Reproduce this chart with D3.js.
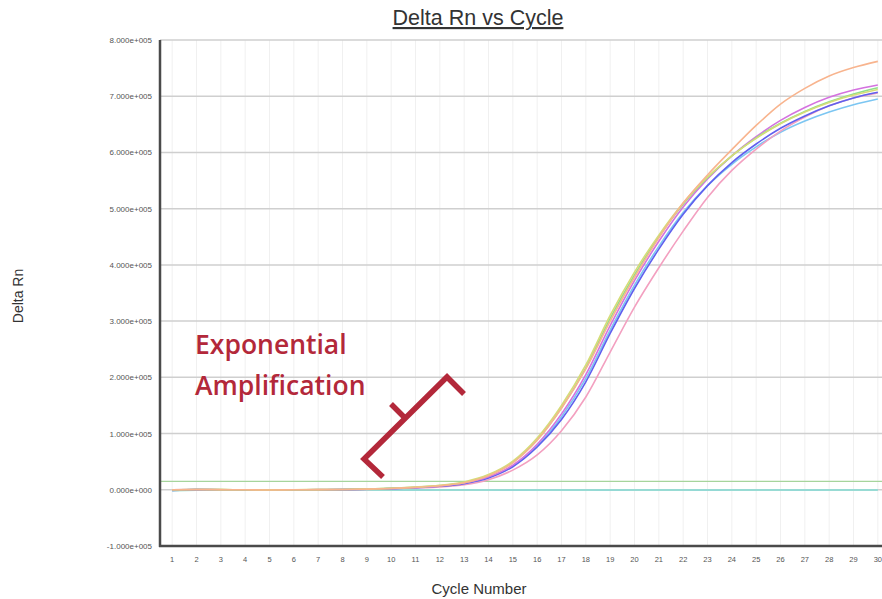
<!DOCTYPE html>
<html>
<head>
<meta charset="utf-8">
<script src="https://cdn.jsdelivr.net/npm/d3@7"></script>
<style>
  body { margin: 0; background: #fff; }
  svg { display: block; }
  .tick-lbl { font-family: "Liberation Sans", Arial, sans-serif; fill: #555; }
</style>
</head>
<body>
<div id="cont"></div>
<script>
// cycles 1..30
var cycles = d3.range(1, 31);

var yTicks = [-100000, 0, 100000, 200000, 300000, 400000, 500000, 600000, 700000, 800000];
var yTickLabels = ["-1.000e+005", "0.000e+000", "1.000e+005", "2.000e+005", "3.000e+005",
  "4.000e+005", "5.000e+005", "6.000e+005", "7.000e+005", "8.000e+005"];

var threshold = 15000;

// amplification curves (Delta Rn per cycle)
var orange = [0, 600, 300, 0, -300, 0, 200, 500, 1100, 2400, 4300, 7200, 12500, 25000, 48000, 88000, 145000, 215000, 300000, 378000, 448000, 510000, 560000, 605000, 648000, 686000, 714000, 736000, 751000, 762000];
var yellow = [0, 400, 200, 0, -200, 100, 300, 600, 1300, 2700, 4800, 8000, 14000, 27000, 51000, 92000, 150000, 222000, 310000, 387000, 453000, 510000, 556000, 594000, 625000, 651000, 672000, 689000, 702000, 712000];
var green = [0, 500, 300, 0, -300, 0, 200, 500, 1200, 2500, 4500, 7500, 13000, 26000, 49000, 89000, 146000, 217000, 305000, 382000, 450000, 508000, 555000, 594000, 626000, 652000, 673000, 690000, 704000, 715000];
var magenta = [0, 300, 100, 0, -200, 0, 200, 400, 1000, 2200, 4000, 6800, 12000, 23000, 44000, 81000, 135000, 205000, 292000, 372000, 442000, 503000, 553000, 594000, 628000, 657000, 680000, 698000, 711000, 720000];
var blue = [-1000, 200, 0, -100, -300, 0, 100, 300, 900, 2000, 3700, 6200, 11000, 21000, 41000, 76000, 125000, 192000, 278000, 358000, 428000, 490000, 541000, 582000, 615000, 643000, 665000, 683000, 697000, 707000];
var cyan = [-800, 300, 100, 0, -200, 0, 100, 300, 900, 2100, 3800, 6400, 11500, 22000, 42000, 78000, 130000, 198000, 284000, 364000, 433000, 493000, 541000, 579000, 610000, 636000, 656000, 672000, 685000, 695000];
var pink = [0, 300, 100, 0, -300, 0, 100, 300, 800, 1700, 3200, 5200, 9000, 18000, 35000, 62000, 105000, 165000, 245000, 325000, 395000, 460000, 520000, 568000, 606000, 638000, 663000, 683000, 697000, 706000];

// no-template controls stay flat
var ntcA = [-1500, -800, -600, -500, -500, -600, -500, -500, -400, -500, -500, -400, -500, -500, -400, -500, -500, -400, -500, -500, -400, -500, -500, -400, -500, -500, -400, -500, -500, -400];
var ntcB = [-1000, -700, -500, -600, -500, -500, -600, -500, -500, -500, -600, -500, -500, -500, -600, -500, -500, -500, -600, -500, -500, -500, -600, -500, -500, -500, -600, -500, -500, -500];

var series = [
  { name: "ntcB", values: ntcB, color: "#a7c6f2" },
  { name: "ntcA", values: ntcA, color: "#8fe0cc" },
  { name: "cyan", values: cyan, color: "#7cc6f2" },
  { name: "pink", values: pink, color: "#f3a0c0" },
  { name: "blue", values: blue, color: "#6060ee" },
  { name: "magenta", values: magenta, color: "#d472e0" },
  { name: "green", values: green, color: "#8ee08a" },
  { name: "yellow", values: yellow, color: "#d6dc78" },
  { name: "orange", values: orange, color: "#f8b48e" }
];

var W = 882, H = 599;
var plotL = 160, plotT = 40, plotB = 546, plotR = 890;

var svg = d3.select("#cont").append("svg")
  .attr("width", W)
  .attr("height", H);

var x = d3.scaleLinear().domain([0.5, 30.5]).range([plotL, plotR]);
var y = d3.scaleLinear().domain([-100000, 800000]).range([plotB, plotT]);

// vertical grid, very faint
svg.append("g")
  .selectAll("line")
  .data(cycles)
  .enter().append("line")
  .attr("x1", function(d) { return x(d); })
  .attr("x2", function(d) { return x(d); })
  .attr("y1", plotT)
  .attr("y2", plotB)
  .attr("stroke", "#f0f0f0")
  .attr("stroke-width", 1);

// horizontal grid
svg.append("g")
  .selectAll("line")
  .data(yTicks.slice(1))
  .enter().append("line")
  .attr("x1", plotL)
  .attr("x2", plotR)
  .attr("y1", function(d) { return y(d); })
  .attr("y2", function(d) { return y(d); })
  .attr("stroke", "#cfcfcf")
  .attr("stroke-width", 1.5);

// y tick labels
svg.append("g")
  .selectAll("text")
  .data(yTicks)
  .enter().append("text")
  .attr("class", "tick-lbl")
  .style("font-size", "8px")
  .attr("x", plotL - 8)
  .attr("y", function(d) { return y(d) + 3; })
  .attr("text-anchor", "end")
  .text(function(d, i) { return yTickLabels[i]; });

// x tick labels
svg.append("g")
  .selectAll("text")
  .data(cycles)
  .enter().append("text")
  .attr("class", "tick-lbl")
  .style("font-size", "7.5px")
  .attr("x", function(d) { return x(d); })
  .attr("y", plotB + 16)
  .attr("text-anchor", "middle")
  .text(function(d) { return d; });

// threshold
svg.append("line")
  .attr("x1", plotL)
  .attr("x2", plotR)
  .attr("y1", y(threshold))
  .attr("y2", y(threshold))
  .attr("stroke", "#a6d49c")
  .attr("stroke-width", 1.3);

var line = d3.line()
  .x(function(d, i) { return x(cycles[i]); })
  .y(function(d) { return y(d); })
  .curve(d3.curveMonotoneX);

svg.append("g")
  .selectAll("path")
  .data(series)
  .enter().append("path")
  .attr("d", function(d) { return line(d.values); })
  .attr("fill", "none")
  .attr("stroke", function(d) { return d.color; })
  .attr("stroke-width", 1.6);

// axes frame
svg.append("line")
  .attr("x1", plotL).attr("x2", plotL)
  .attr("y1", plotT).attr("y2", plotB + 1)
  .attr("stroke", "#4a4a4a").attr("stroke-width", 2.5);
svg.append("line")
  .attr("x1", plotL - 1).attr("x2", W)
  .attr("y1", plotB).attr("y2", plotB)
  .attr("stroke", "#4a4a4a").attr("stroke-width", 2.5);

// titles
svg.append("text")
  .attr("x", 478)
  .attr("y", 25)
  .attr("text-anchor", "middle")
  .style("font-family", "Liberation Sans, Arial, sans-serif")
  .style("font-size", "21.5px")
  .style("fill", "#333")
  .style("text-decoration", "underline")
  .text("Delta Rn vs Cycle");

svg.append("text")
  .attr("x", 479)
  .attr("y", 594)
  .attr("text-anchor", "middle")
  .style("font-family", "Liberation Sans, Arial, sans-serif")
  .style("font-size", "15px")
  .style("fill", "#333")
  .text("Cycle Number");

svg.append("text")
  .attr("transform", "translate(23," + 296 + ") rotate(-90)")
  .attr("text-anchor", "middle")
  .style("font-family", "Liberation Sans, Arial, sans-serif")
  .style("font-size", "14px")
  .style("fill", "#333")
  .text("Delta Rn");

// annotation
var red = "#b3283a";
var ann = svg.append("g")
  .style("font-family", "Open Sans, sans-serif")
  .style("font-weight", 600)
  .style("font-size", "26.5px")
  .style("fill", red);
ann.append("text").attr("x", 195).attr("y", 354).text("Exponential");
ann.append("text").attr("x", 195).attr("y", 395).text("Amplification");

svg.append("path")
  .attr("d", "M383,477 L364,459 L447,377 L464,394 M405,418 L391,404")
  .attr("fill", "none")
  .attr("stroke", red)
  .attr("stroke-width", 5.5)
  .attr("stroke-linejoin", "miter");
</script>
</body>
</html>
